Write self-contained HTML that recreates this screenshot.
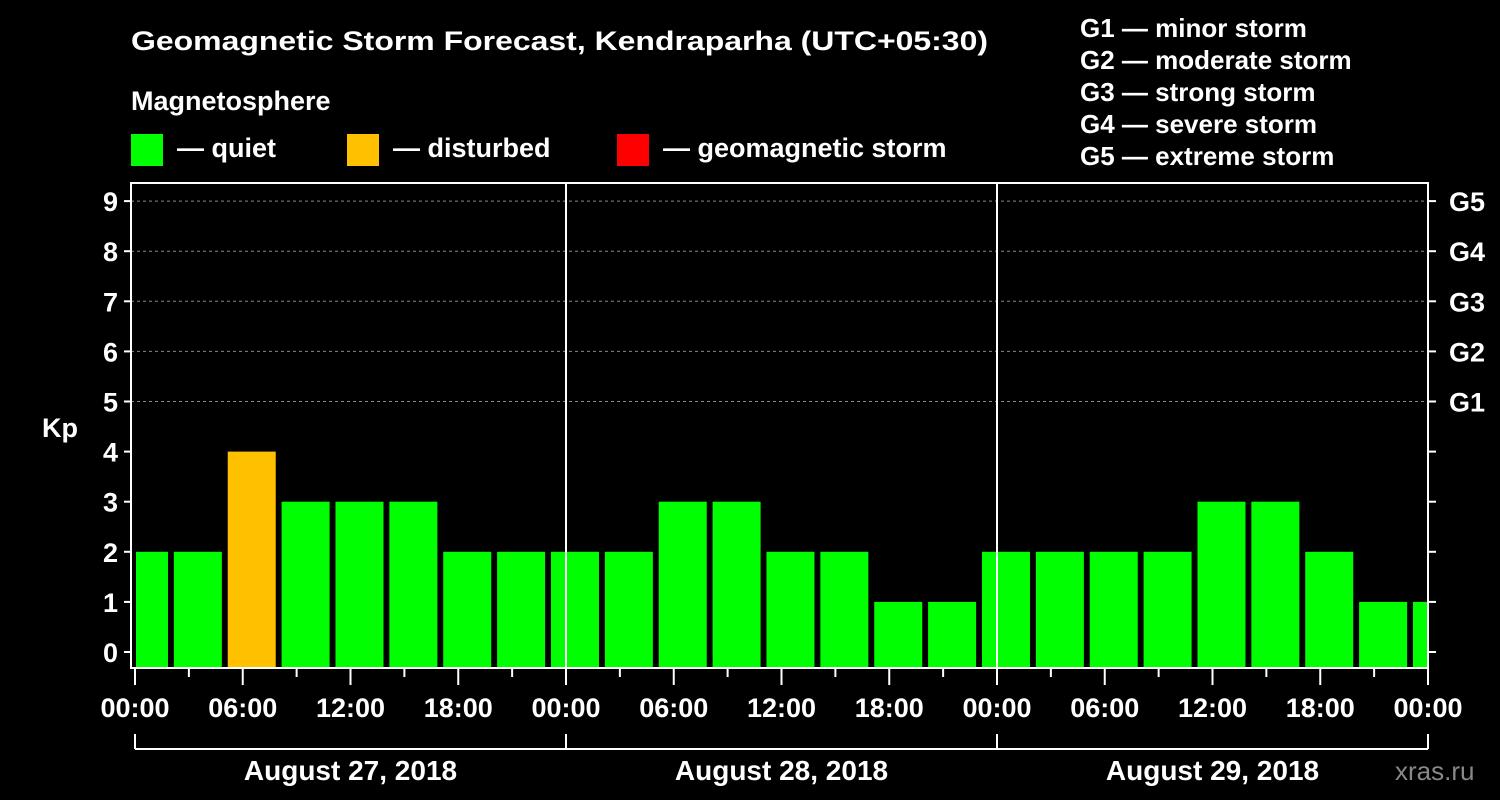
<!DOCTYPE html>
<html><head><meta charset="utf-8"><style>
body{margin:0;background:#000;}
svg{display:block;font-family:"Liberation Sans",Arial,sans-serif;font-weight:bold;}
</style></head><body>
<svg width="1500" height="800" viewBox="0 0 1500 800" xmlns="http://www.w3.org/2000/svg">
<rect width="1500" height="800" fill="#000"/>
<text x="131" y="50" fill="#fff" font-size="27" textLength="857" lengthAdjust="spacingAndGlyphs">Geomagnetic Storm Forecast, Kendraparha (UTC+05:30)</text>
<text x="131" y="110" fill="#fff" font-size="27">Magnetosphere</text>
<rect x="131" y="134" width="32" height="32" fill="#00ff00"/>
<text x="177" y="157" fill="#fff" font-size="27">— quiet</text>
<rect x="347" y="134" width="32" height="32" fill="#ffc000"/>
<text x="393" y="157" fill="#fff" font-size="27">— disturbed</text>
<rect x="617" y="134" width="32" height="32" fill="#ff0000"/>
<text x="663" y="157" fill="#fff" font-size="27">— geomagnetic storm</text>
<g fill="#fff" font-size="26">
<text x="1080" y="37">G1 — minor storm</text>
<text x="1080" y="69">G2 — moderate storm</text>
<text x="1080" y="101">G3 — strong storm</text>
<text x="1080" y="133">G4 — severe storm</text>
<text x="1080" y="165">G5 — extreme storm</text>
</g>
<text x="42" y="437" fill="#fff" font-size="27">Kp</text>
<g id="plot"></g>
<text x="1395" y="780" fill="#888" font-size="26" font-weight="normal">xras.ru</text>
</svg>
<script>
const kpValues=[2,2,4,3,3,3,2,2,2,2,3,3,2,2,1,1,2,2,2,2,3,3,2,1,1];
const yTicks=[0,1,2,3,4,5,6,7,8,9];
const gLabels=["G1","G2","G3","G4","G5"];
const hourLabels=["00:00","06:00","12:00","18:00","00:00","06:00","12:00","18:00","00:00","06:00","12:00","18:00","00:00"];
const dayLabels=["August 27, 2018","August 28, 2018","August 29, 2018"];
(function(){
const NS="http://www.w3.org/2000/svg";
const X0=135,X1=1428,PX_H=(X1-X0)/72,plotTop=183,plotBottom=668;
const xH=h=>X0+h*PX_H;
const yK=v=>652-50.1*v;
const g=document.getElementById('plot');
function mk(t,a){const e=document.createElementNS(NS,t);for(const k in a)e.setAttribute(k,a[k]);g.appendChild(e);return e;}
for(let v=5;v<=9;v++){const l=mk('line',{x1:131,x2:1428,y1:yK(v),y2:yK(v),stroke:'#888','stroke-dasharray':'3,3','stroke-width':1});

}
kpValues.forEach((v,k)=>{const c=xH(0.5+3*k);let a=Math.max(c-24,136),b=Math.min(c+24,X1);
const col=v>=5?'#ff0000':(v>=4?'#ffc000':'#00ff00');
const r=mk('rect',{x:a,y:yK(v),width:b-a,height:plotBottom-yK(v),fill:col});

});
[24,48].forEach(h=>{const l=mk('line',{x1:xH(h),x2:xH(h),y1:plotTop,y2:plotBottom,stroke:'#fff','stroke-width':2});

});
const f=mk('path',{d:`M131 ${plotTop} H1428 V${plotBottom} H131 Z`,fill:'none',stroke:'#fff','stroke-width':2});


yTicks.forEach(v=>{const y=yK(v);
mk('line',{x1:124,x2:131,y1:y,y2:y,stroke:'#fff','stroke-width':2});
mk('line',{x1:1428,x2:1436,y1:y,y2:y,stroke:'#fff','stroke-width':2});
const t=mk('text',{x:118,y:y+10,fill:'#fff','font-size':27,'text-anchor':'end'});t.textContent=v;

});
gLabels.forEach((s,i)=>{const t=mk('text',{x:1449,y:yK(5+i)+10,fill:'#fff','font-size':27});t.textContent=s;

});
for(let h=0;h<=72;h+=3){const x=xH(h);mk('line',{x1:x,x2:x,y1:plotBottom,y2:h%6==0?685:677,stroke:'#fff','stroke-width':2});}
hourLabels.forEach((s,i)=>{const t=mk('text',{x:xH(i*6),y:717,fill:'#fff','font-size':27,'text-anchor':'middle'});t.textContent=s;

});
mk('line',{x1:X0,x2:X1,y1:749,y2:749,stroke:'#fff','stroke-width':2});
[0,24,48,72].forEach(h=>mk('line',{x1:xH(h),x2:xH(h),y1:734,y2:749,stroke:'#fff','stroke-width':2}));
dayLabels.forEach((s,i)=>{const t=mk('text',{x:xH(12+24*i),y:780,fill:'#fff','font-size':28,'text-anchor':'middle'});t.textContent=s;

});
})();
</script>
</body></html>
